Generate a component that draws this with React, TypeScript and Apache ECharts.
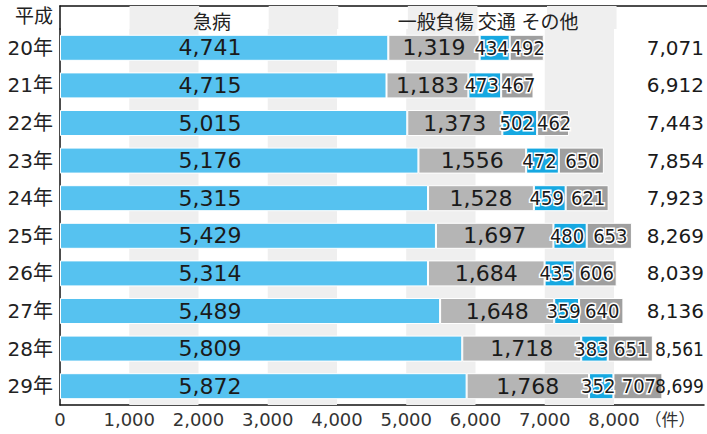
import React, { useEffect, useRef } from "react";
import * as echarts from "echarts";

const years = ["20年", "21年", "22年", "23年", "24年", "25年", "26年", "27年", "28年", "29年"];
const kyubyo = [4741, 4715, 5015, 5176, 5315, 5429, 5314, 5489, 5809, 5872];
const ippan = [1319, 1183, 1373, 1556, 1528, 1697, 1684, 1648, 1718, 1768];
const kotsu = [434, 473, 502, 472, 459, 480, 435, 359, 383, 352];
const sonota = [492, 467, 462, 650, 621, 653, 606, 640, 651, 707];
const totals = [7071, 6912, 7443, 7854, 7923, 8269, 8039, 8136, 8561, 8699];
const seriesNames = ["急病", "一般負傷", "交通", "その他"];
const bands = [[1000, 2000], [3000, 4000], [5000, 6000], [7000, 8000]];

const FONT = "'DejaVu Sans', 'Noto Sans CJK JP', sans-serif";
const COND = "'DejaVu Sans Condensed', 'DejaVu Sans', sans-serif";
const CJK = "'Noto Sans CJK JP', sans-serif";
const fmt = (v: number) => v.toLocaleString("en-US");

export default function App() {
  const ref = useRef<HTMLDivElement>(null);
  useEffect(() => {
    if (!ref.current) return;
    const chart = echarts.init(ref.current, null, { renderer: "svg" });
    const markArea = {
      silent: true,
      itemStyle: { color: "#efefef" },
      data: bands.map(([a, b]) => [{ xAxis: a }, { xAxis: b }]),
    };
    const smallLabel = (dx: number) => ({
      show: true,
      position: "inside",
      offset: [dx, 0],
      fontFamily: COND,
      fontSize: 20,
      color: "#1a1a1a",
      textBorderColor: "#fff",
      textBorderWidth: 3,
      formatter: (p: any) => fmt(p.value),
    });
    const colors = ["#56c2f0", "#b5b5b5", "#16a8e1", "#9f9f9f"];
    const data = [kyubyo, ippan, kotsu, sonota];
    const labels: any[] = [
      {
        show: true,
        position: [150, "50%"],
        align: "center",
        verticalAlign: "middle",
        fontFamily: FONT,
        fontSize: 22,
        color: "#1a1a1a",
        formatter: (p: any) => fmt(p.value),
      },
      {
        show: true,
        position: "inside",
        fontFamily: FONT,
        fontSize: 22,
        color: "#1a1a1a",
        formatter: (p: any) => fmt(p.value),
      },
      smallLabel(-3),
      smallLabel(1),
    ];
    const mainSeries = data.map((d, i) => ({
      type: "bar",
      name: seriesNames[i],
      stack: "main",
      xAxisIndex: 0,
      yAxisIndex: 0,
      barWidth: 26,
      data: d,
      itemStyle: { color: colors[i], borderColor: "#fff", borderWidth: 1 },
      label: labels[i],
      markArea: i === 0 ? markArea : undefined,
    }));
    const headerLabelPos: any[] = [
      { position: [150, "50%"], align: "center", verticalAlign: "middle", offset: [2, 3] },
      { position: "inside", offset: [0, 3] },
      { position: "inside", offset: [0, 3] },
      { position: "inside", offset: [21, 3] },
    ];
    const headerSeries = data.map((d, i) => ({
      type: "bar",
      name: seriesNames[i] + "_h",
      stack: "head",
      xAxisIndex: 1,
      yAxisIndex: 1,
      barWidth: "100%",
      data: [d[0]],
      itemStyle: { color: "rgba(0,0,0,0)" },
      label: {
        show: true,
        fontFamily: CJK,
        fontSize: 19,
        color: "#222",
        formatter: () => seriesNames[i],
        ...headerLabelPos[i],
      },
      markArea: i === 0 ? markArea : undefined,
    }));
    chart.setOption({
      animation: false,
      grid: [
        { left: 60, right: 0, top: 29, bottom: 29 },
        { left: 60, right: 0, top: 6, height: 23 },
      ],
      xAxis: [
        {
          type: "value",
          gridIndex: 0,
          min: 0,
          max: 9300,
          interval: 1000,
          axisLine: { show: true, lineStyle: { color: "#111", width: 1.5 } },
          axisTick: { show: false },
          splitLine: { show: false },
          axisLabel: {
            fontFamily: FONT,
            fontSize: 18,
            color: "#333",
            margin: 5,
            formatter: (v: number) => (v <= 8000 ? fmt(v) : ""),
          },
        },
        {
          type: "value",
          gridIndex: 1,
          min: 0,
          max: 9300,
          position: "top",
          axisLine: { show: true, lineStyle: { color: "#111", width: 1.5 } },
          axisTick: { show: false },
          splitLine: { show: false },
          axisLabel: { show: false },
        },
      ],
      yAxis: [
        {
          type: "category",
          gridIndex: 0,
          data: years,
          inverse: true,
          axisLine: { show: true, lineStyle: { color: "#111", width: 1.5 } },
          axisTick: { show: false },
          axisLabel: { fontFamily: FONT, fontSize: 20, color: "#222", margin: 7 },
        },
        {
          type: "category",
          gridIndex: 1,
          data: [""],
          axisLine: { show: true, lineStyle: { color: "#111", width: 1.5 } },
          axisTick: { show: false },
          axisLabel: { show: false },
        },
        {
          type: "category",
          gridIndex: 0,
          position: "right",
          inverse: true,
          z: 10,
          data: totals.map((t) =>
            t >= 8500 ? { value: fmt(t), textStyle: { fontFamily: COND, fontSize: 19 } } : fmt(t)
          ),
          axisLine: { show: false },
          axisTick: { show: false },
          axisLabel: { inside: true, margin: 0, fontFamily: FONT, fontSize: 20, color: "#1a1a1a" },
        },
      ],
      graphic: [
        {
          type: "text",
          x: 53,
          y: 14,
          style: {
            text: "平成",
            textAlign: "right",
            textVerticalAlign: "middle",
            fontFamily: CJK,
            fontSize: 19,
            fill: "#222",
          },
        },
        {
          type: "text",
          x: 670,
          y: 418,
          style: {
            text: "（件）",
            textAlign: "center",
            textVerticalAlign: "middle",
            fontFamily: CJK,
            fontSize: 17,
            fill: "#333",
          },
        },
      ],
      series: [...mainSeries, ...headerSeries],
    });
    return () => chart.dispose();
  }, []);
  return (
    <div
      ref={ref}
      style={{ position: "absolute", left: 0, top: 0, width: 707, height: 434 }}
    />
  );
}
